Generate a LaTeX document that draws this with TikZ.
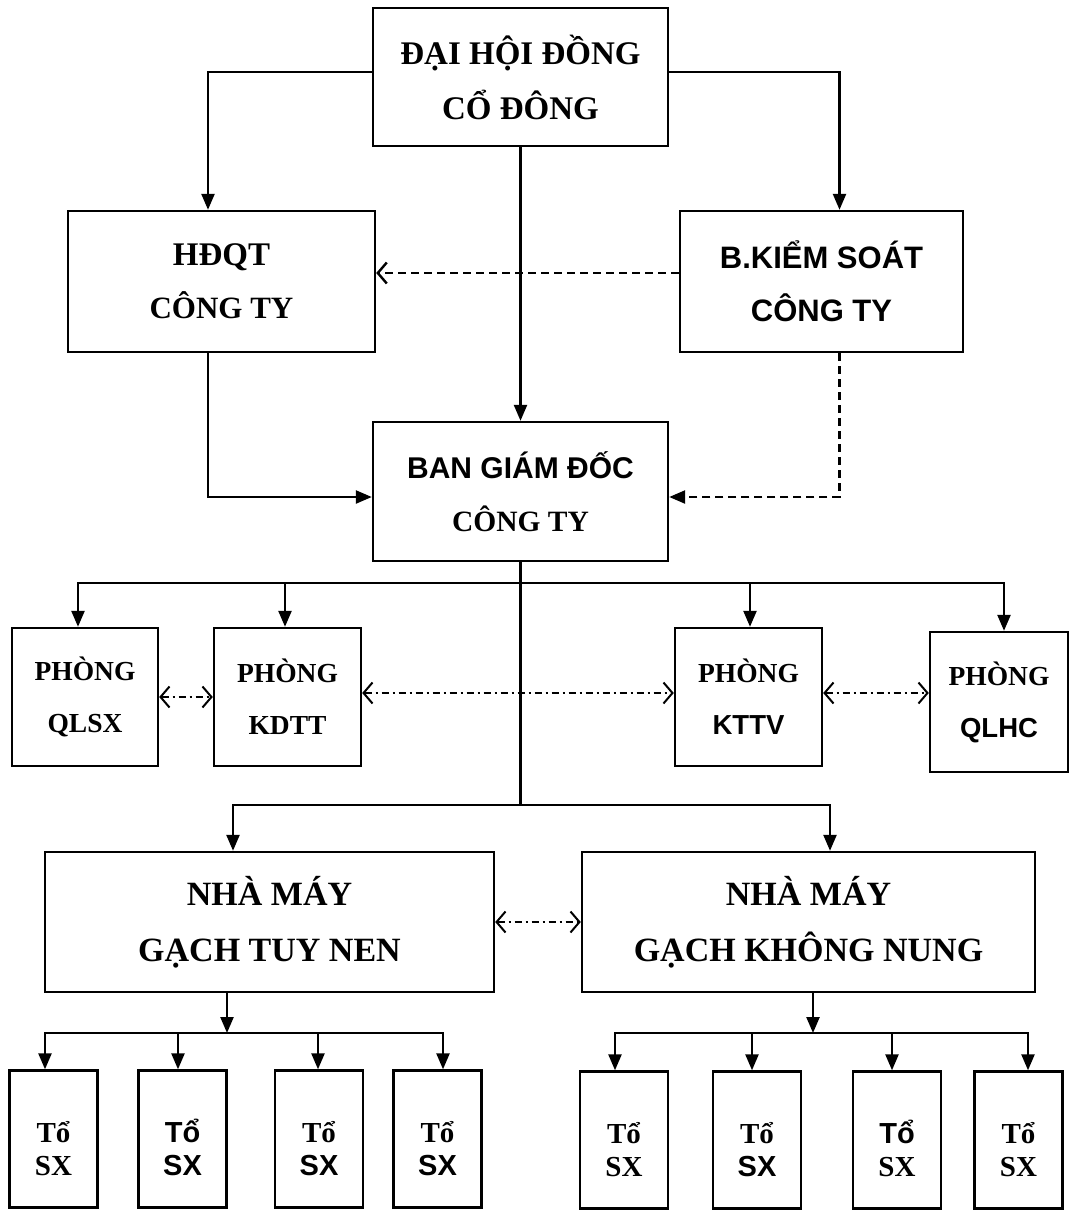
\documentclass[tikz,border=0pt]{standalone}
\usepackage{fontspec}
\setmainfont{Liberation Serif}
\setsansfont{Liberation Sans}
\usetikzlibrary{arrows.meta}

\newcommand{\bigfont}{\bfseries\fontsize{33}{55}\selectfont}
\newcommand{\phongfont}{\bfseries\fontsize{27.5}{52}\selectfont}
\newcommand{\nmfont}{\bfseries\fontsize{34}{56}\selectfont}
\newcommand{\tofont}{\bfseries\fontsize{29}{33}\selectfont}

\tikzset{
  box/.style={draw, line width=2.4pt, align=center, inner sep=0pt, font=\bigfont},
  boxwh/.style 2 args={minimum width=#1pt, minimum height=#2pt},
  ln/.style={line width=2.4pt, line cap=rect},
  arr/.style={ln, -{Triangle[length=16pt, width=13pt]}},
  dsh/.style={line width=2.4pt, dash pattern=on 8pt off 5pt},
  barb/.style={-{Straight Barb[length=9pt, width=21pt]}},
  dd/.style={line width=2pt, dash pattern=on 7pt off 4pt on 2pt off 4pt,
    {Straight Barb[length=9pt, width=21pt]}-{Straight Barb[length=9pt, width=21pt]}}
}

\begin{document}
\begin{tikzpicture}[x=1pt, y=-1pt]
  %% nền và khung
  \fill[white] (0,0) rectangle (1072,1210);
  \useasboundingbox (0,0) rectangle (1072,1210);

  %% cấp lãnh đạo
  \node[box, boxwh={295}{138}] (dh) at (520.5,77) {ĐẠI HỘI ĐỒNG\\CỔ ĐÔNG};
  \node[box, boxwh={307}{141}, font=\bfseries\fontsize{31}{53}\selectfont]
    (hd) at (221.5,281.5) {{\fontsize{33}{53}\selectfont HĐQT}\\CÔNG TY};
  \node[box, boxwh={283}{141}, font=\bfseries\sffamily\fontsize{31}{53}\selectfont]
    (bks) at (821.5,281.5) {B.KIỂM SOÁT\\CÔNG TY};
  \node[box, boxwh={295}{139}, font=\bfseries\fontsize{29.5}{53}\selectfont]
    (bgd) at (520.5,491.5) {{\sffamily\fontsize{30}{53}\selectfont BAN GIÁM ĐỐC}\\CÔNG TY};

  %% các phòng
  \node[box, boxwh={146}{138}, font=\phongfont] (qlsx) at (85,697) {PHÒNG\\QLSX};
  \node[box, boxwh={147}{138}, font=\phongfont] (kdtt) at (287.5,697) {PHÒNG\\KDTT};
  \node[box, boxwh={147}{138}, font=\phongfont] (kttv) at (748.5,697) {PHÒNG\\{\sffamily KTTV}};
  \node[box, boxwh={138}{140}, font=\phongfont] (qlhc) at (999,702) {PHÒNG\\{\sffamily QLHC}};

  %% nhà máy
  \node[box, boxwh={449}{140}, font=\nmfont] (nm1) at (269.5,922) {NHÀ MÁY\\GẠCH TUY NEN};
  \node[box, boxwh={453}{140}, font=\nmfont] (nm2) at (808.5,922) {NHÀ MÁY\\GẠCH KHÔNG NUNG};

  %% tổ sản xuất
  \foreach \nm/\xc/\yc/\fa/\fb in {t1/53.5/1139/\rmfamily/\rmfamily, t2/182.5/1139/\sffamily/\sffamily,
      t3/319/1139/\rmfamily/\sffamily, t4/437.5/1139/\rmfamily/\sffamily,
      t5/624/1140/\rmfamily/\rmfamily, t6/757/1140/\rmfamily/\sffamily,
      t7/897/1140/\sffamily/\rmfamily, t8/1018.5/1140/\rmfamily/\rmfamily}
    \node[box, boxwh={88}{137}, font=\tofont] (\nm) at (\xc,\yc)
      {\rule{0pt}{40pt}{\fa Tổ}\\{\fb SX}};

  %% quan hệ trực tuyến
  \draw[arr] ([yshift=5pt]dh.west) -| ([xshift=-13.5pt]hd.north);
  \draw[arr] ([yshift=5pt]dh.east) -| ([xshift=18pt]bks.north);
  \draw[arr] (dh.south) -- (bgd.north);
  \draw[arr] ([xshift=-13.5pt]hd.south) |- ([yshift=-5.5pt]bgd.west);

  %% quan hệ kiểm soát
  \draw[dsh, -{Triangle[length=16pt, width=13pt]}] ([xshift=18pt]bks.south) |- ([yshift=-5.5pt]bgd.east);
  \draw[dsh, barb] ([yshift=8.5pt]bks.west) -- ([yshift=8.5pt]hd.east);

  %% xuống các phòng
  \coordinate (bus2) at (520.5,805);
  \draw[ln] (bgd.south) -- (bus2);
  \draw[ln] (78,583) -- (1004,583);
  \foreach \xp/\nd in {78/qlsx, 285/kdtt, 750/kttv, 1004/qlhc}
    \draw[arr] (\xp,583) -- (\xp,583 |- \nd.north);

  %% phối hợp giữa các phòng
  \draw[dd] (qlsx.east) -- (kdtt.west);
  \draw[dd] ([yshift=4pt]kdtt.east) -- ([yshift=4pt]kttv.west);
  \draw[dd] ([yshift=4pt]kttv.east) -- ([yshift=4pt]kttv.east -| qlhc.west);

  %% xuống nhà máy
  \draw[ln] (233,805) -- (830,805);
  \draw[arr] (233,805) -- (233,805 |- nm1.north);
  \draw[arr] (830,805) -- (830,805 |- nm2.north);
  \draw[dd] (nm1.east) -- (nm2.west);

  %% xuống tổ sản xuất
  \draw[arr] (227,1033 |- nm1.south) -- (227,1033);
  \draw[ln] (45,1033) -- (443,1033);
  \foreach \xp/\nd in {45/t1, 178/t2, 318/t3, 443/t4}
    \draw[arr] (\xp,1033) -- (\xp,1033 |- \nd.north);
  \draw[arr] (813,1033 |- nm2.south) -- (813,1033);
  \draw[ln] (615,1033) -- (1028,1033);
  \foreach \xp/\nd in {615/t5, 752/t6, 892/t7, 1028/t8}
    \draw[arr] (\xp,1033) -- (\xp,1033 |- \nd.north);
\end{tikzpicture}
\end{document}
